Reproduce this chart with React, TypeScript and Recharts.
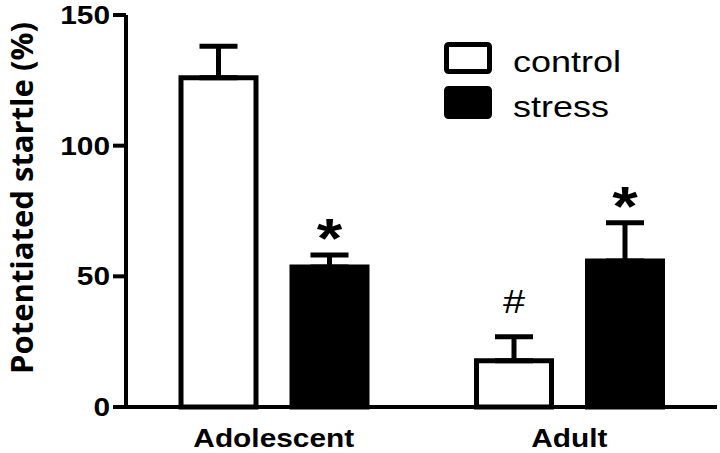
import { BarChart, Bar, XAxis, YAxis, ErrorBar, LabelList, Label } from 'recharts'

const groups = ['Adolescent', 'Adult']
const seriesNames = ['control', 'stress']
const controlMean = [126, 17.7]
const controlSem = [12, 9.2]
const stressMean = [53.6, 55.9]
const stressSem = [4.6, 14.6]
const controlMarks = ['', '#']
const stressMarks = ['*', '*']
const yTicks = [0, 50, 100, 150]

const data = groups.map((g, i) => ({
  group: g,
  control: controlMean[i],
  controlErr: [0, controlSem[i]],
  controlMark: controlMarks[i],
  stress: stressMean[i],
  stressErr: [0, stressSem[i]],
  stressMark: stressMarks[i],
}))

const arial = "'Liberation Sans', Arial, sans-serif"
// the original figure's text is a bit wider than plain Arial
const STRETCH = 1.17

const XTick = (props: any) => {
  const { x, y, payload } = props
  return (
    <text
      transform={`translate(${x},${y}) scale(${STRETCH},1)`}
      textAnchor="middle"
      dy="0.71em"
      fontFamily={arial}
      fontSize={25.5}
      fontWeight="bold"
      fill="#000"
    >
      {payload.value}
    </text>
  )
}

const YTick = (props: any) => {
  const { x, y, payload } = props
  return (
    <text
      transform={`translate(${x},${y}) scale(${STRETCH},1)`}
      textAnchor="end"
      dy="0.355em"
      fontFamily={arial}
      fontSize={25.5}
      fontWeight="bold"
      fill="#000"
    >
      {payload.value}
    </text>
  )
}

const makeMark = (sems: number[], means: number[], fontSize: number, weight: string, lift: number) =>
  (props: any) => {
    const { x, y, width, height, value, index } = props
    if (!value) return null
    const pxPerUnit = height / means[index]
    const errTop = y - sems[index] * pxPerUnit
    return (
      <text
        transform={`translate(${x + width / 2},${errTop - lift}) scale(${STRETCH},1)`}
        textAnchor="middle"
        fontFamily={arial}
        fontSize={fontSize}
        fontWeight={weight}
        fill="#000"
      >
        {value}
      </text>
    )
  }

// legend drawn as an overlay so it doesn't shrink the plot
function ChartLegend() {
  return (
    <svg width={260} height={90} style={{ position: 'absolute', left: 440, top: 38 }}>
      <rect x={6.5} y={6.5} width={43} height={27} fill="#fff" stroke="#000" strokeWidth={5} rx={2} />
      <rect x={6.5} y={50.5} width={43} height={28} fill="#000" stroke="#000" strokeWidth={5} rx={2} />
      <text transform="translate(73,34) scale(1.2,1)" fontFamily={arial} fontSize={30} fill="#000">
        {seriesNames[0]}
      </text>
      <text transform="translate(73,79) scale(1.2,1)" fontFamily={arial} fontSize={30} fill="#000">
        {seriesNames[1]}
      </text>
    </svg>
  )
}

export default function App() {
  return (
    <div style={{ position: 'absolute', left: 0, top: 0, width: 720, height: 453, background: '#fff' }}>
      <BarChart
        width={720}
        height={453}
        data={data}
        margin={{ top: 15, right: 3, left: 0, bottom: 0 }}
        barSize={75}
        barGap={36}
      >
        <XAxis
          dataKey="group"
          height={46}
          axisLine={{ stroke: '#000', strokeWidth: 4 }}
          tickLine={false}
          tickSize={0}
          tickMargin={22}
          tick={<XTick />}
        />
        <YAxis
          width={126}
          domain={[0, 150]}
          ticks={yTicks}
          interval={0}
          axisLine={{ stroke: '#000', strokeWidth: 4 }}
          tickLine={{ stroke: '#000', strokeWidth: 4 }}
          tickSize={13}
          tickMargin={3}
          tick={<YTick />}
        >
          <Label
            content={() => (
              <text
                x={33}
                y={198}
                transform="rotate(-90, 33, 198)"
                textAnchor="middle"
                fontFamily="'Open Sans', sans-serif"
                fontWeight="bold"
                fontSize={31}
                fill="#000"
              >
                Potentiated startle (%)
              </text>
            )}
          />
        </YAxis>
        <Bar dataKey="control" name={seriesNames[0]} fill="#fff" stroke="#000" strokeWidth={5} isAnimationActive={false}>
          <ErrorBar dataKey="controlErr" direction="y" width={19} stroke="#000" strokeWidth={5} />
          <LabelList dataKey="controlMark" content={makeMark(controlSem, controlMean, 34, 'normal', 24)} />
        </Bar>
        <Bar dataKey="stress" name={seriesNames[1]} fill="#000" stroke="#000" strokeWidth={5} isAnimationActive={false}>
          <ErrorBar dataKey="stressErr" direction="y" width={19} stroke="#000" strokeWidth={5} />
          <LabelList dataKey="stressMark" content={makeMark(stressSem, stressMean, 56, 'bold', -2)} />
        </Bar>
      </BarChart>
      <ChartLegend />
    </div>
  )
}
